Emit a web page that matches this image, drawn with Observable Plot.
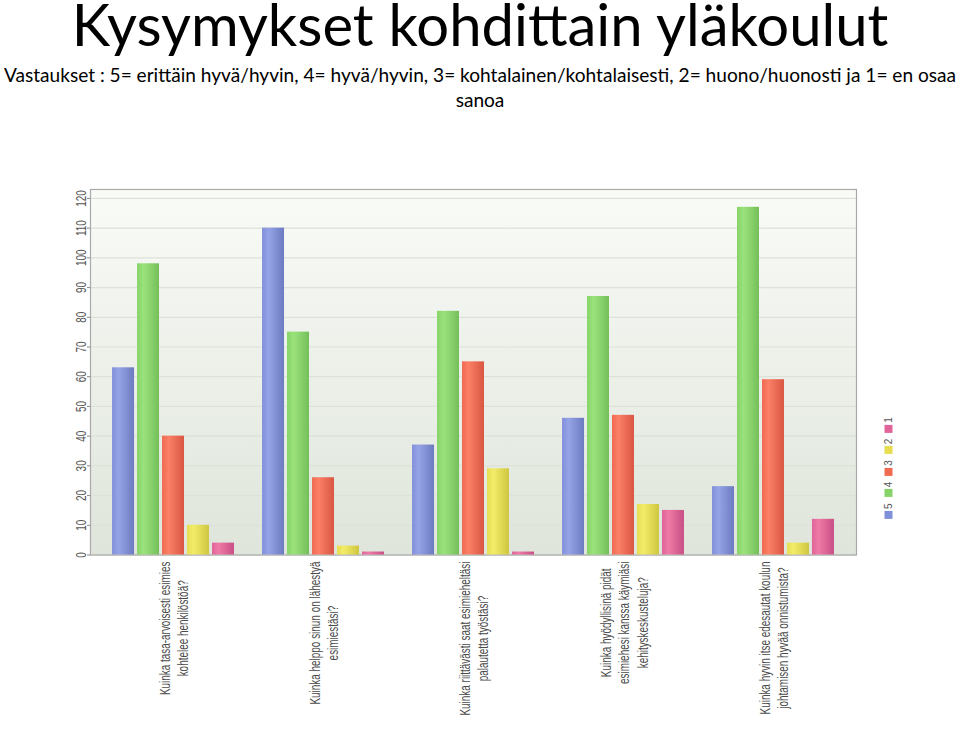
<!DOCTYPE html>
<html><head><meta charset="utf-8">
<script src="https://cdn.jsdelivr.net/npm/d3@7"></script>
<script src="https://cdn.jsdelivr.net/npm/@observablehq/plot@0.6"></script>
<style>
html,body{margin:0;padding:0;background:#fff;}
#wrap{position:relative;width:960px;height:740px;overflow:hidden;}
#title{position:absolute;left:0;width:960px;top:0;text-align:center;font-family:Lato,"Open Sans",sans-serif;font-size:58px;line-height:47px;color:#000;white-space:nowrap;}
#subtitle{position:absolute;left:0;width:960px;top:62px;text-align:center;font-family:Lato,"Open Sans",sans-serif;font-size:19.1px;line-height:25px;color:#000;white-space:nowrap;}
#back,#chart{position:absolute;left:0;top:140px;}
#legend{position:absolute;left:888px;top:465px;width:max-content;transform:translate(-50%,-50%) rotate(-90deg);white-space:nowrap;}
#legend span{margin-right:6px !important;}
#legend span > svg{margin-right:2px !important;}
</style>
</head><body>
<div id="wrap">
  <div id="title">Kysymykset kohdittain yläkoulut</div>
  <div id="subtitle">Vastaukset : 5= erittäin hyvä/hyvin, 4= hyvä/hyvin, 3= kohtalainen/kohtalaisesti, 2= huono/huonosti ja 1= en osaa<br>sanoa</div>
  <div id="back"></div>
  <div id="chart"></div>
  <div id="legend"></div>
</div>
<script>
const questions = [
  "Kuinka tasa-arvoisesti esimies\nkohtelee henkilöstöä?",
  "Kuinka helppo sinun on lähestyä\nesimiestäsi?",
  "Kuinka riittävästi saat esimieheltäsi\npalautetta työstäsi?",
  "Kuinka hyödyllisinä pidät\nesimiehesi kanssa käymiäsi\nkehityskeskusteluja?",
  "Kuinka hyvin itse edesautat koulun\njohtamisen hyvää onnistumista?"
];
const answers = ["5", "4", "3", "2", "1"];
const v5 = [63, 110, 37, 46, 23];
const v4 = [98, 75, 82, 87, 117];
const v3 = [40, 26, 65, 47, 59];
const v2 = [10, 3, 29, 17, 4];
const v1 = [4, 1, 1, 15, 12];
const yTicks = [0, 10, 20, 30, 40, 50, 60, 70, 80, 90, 100, 110, 120];

const barColors = {
  "5": ["#95a3e6", "#8190da", "#6c7bc0"],
  "4": ["#9be27c", "#86d468", "#74bf5a"],
  "3": ["#fb8066", "#f06a52", "#d95643"],
  "2": ["#f2ec6a", "#e6de50", "#cfc63e"],
  "1": ["#ee7aa6", "#e0649a", "#c94f85"]
};

const series = [v5, v4, v3, v2, v1];
const rows = [];
questions.forEach((q, i) => answers.forEach((a, j) => rows.push({q, a, v: series[j][i]})));

const font = '"Liberation Sans", Arial, sans-serif';
const labelSize = 14;
const squeeze = 0.71;
const common = {
  width: 960,
  height: 600,
  marginTop: 49,
  marginBottom: 185.5,
  marginLeft: 90,
  marginRight: 104,
  style: {fontFamily: font, background: "transparent", overflow: "visible"}
};

// measure the longest line of each label so that each label block starts just below the axis
const ctx = document.createElement("canvas").getContext("2d");
ctx.font = `${labelSize}px ${font}`;
const longest = q => d3.max(q.split("\n"), s => ctx.measureText(s).width) * squeeze;

// background layer: plot area fill, grid, frame and y axis
const back = Plot.plot({
  ...common,
  y: {domain: [0, 123], axis: null},
  marks: [
    Plot.frame({fill: "url(#bg)", stroke: "none"}),
    Plot.gridY(yTicks, {stroke: "#dde2d8", strokeOpacity: 1, strokeWidth: 1.2}),
    Plot.frame({stroke: "#a9a9a9", strokeWidth: 1.2}),
    Plot.axisY(yTicks, {tickSize: 3, tickPadding: 2, tickRotate: -90, fontSize: 14, color: "#555", stroke: "#888", label: null, tickFormat: d => String(d)})
  ]
});

// bars layer: grouped bars faceted by question
const chart = Plot.plot({
  ...common,
  fx: {domain: questions, paddingInner: 0.187, paddingOuter: 0.147, round: false, axis: null},
  x: {domain: answers, paddingInner: 0.12, paddingOuter: 0, round: false, axis: null},
  y: {domain: [0, 123], axis: null},
  color: {domain: answers, range: answers.map(a => `url(#g${a})`)},
  marks: [
    Plot.barY(rows, {fx: "q", x: "a", y: "v", fill: "a"}),
    ...questions.map(q => Plot.text([q], {
      fx: d => d, text: d => d, frameAnchor: "bottom", dy: 6.5 + longest(q) / 2,
      rotate: -90, textAnchor: "middle", lineAnchor: "middle", lineHeight: 1.3,
      fontSize: labelSize, fill: "#4a4a4a"
    }))
  ]
});

const defs = d3.select(back).insert("defs", ":first-child");
const bg = defs.append("linearGradient").attr("id", "bg").attr("x1", 0).attr("y1", 0).attr("x2", 0).attr("y2", 1);
bg.append("stop").attr("offset", "0%").attr("stop-color", "#f9fbf7");
bg.append("stop").attr("offset", "100%").attr("stop-color", "#dfe5db");
for (const a of answers) {
  const g = defs.append("linearGradient").attr("id", "g" + a).attr("x1", 0).attr("y1", 0).attr("x2", 1).attr("y2", 0);
  const c = barColors[a];
  g.append("stop").attr("offset", "0%").attr("stop-color", c[1]);
  g.append("stop").attr("offset", "30%").attr("stop-color", c[0]);
  g.append("stop").attr("offset", "100%").attr("stop-color", c[2]);
}
// condense rotated texts along their reading direction
for (const s of [back, chart]) {
  d3.select(s).selectAll("text").each(function() {
    const t = this.getAttribute("transform");
    if (t && t.includes("rotate")) this.setAttribute("transform", t + ` scale(${squeeze},1)`);
  });
}
document.getElementById("back").appendChild(back);
document.getElementById("chart").appendChild(chart);

const legend = Plot.legend({
  color: {domain: answers, range: answers.map(a => barColors[a][1])},
  legend: "swatches",
  swatchSize: 8,
  style: {fontFamily: font, fontSize: "10px", color: "#555", margin: "0"}
});
document.getElementById("legend").appendChild(legend);
</script>
</body></html>
